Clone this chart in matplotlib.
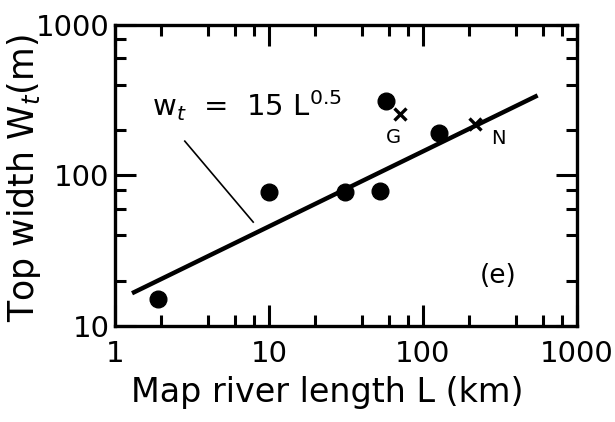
import matplotlib
matplotlib.use('Agg')
import matplotlib.pyplot as plt
from matplotlib.ticker import FixedLocator, NullFormatter

plt.rcParams['font.family'] = ['DejaVu Sans']

# filled circles
dots_L = [1.9, 10, 31, 53, 58, 128]
dots_W = [15, 78, 78, 79, 310, 192]

# crosses (G and N)
cross_L = [71, 218]
cross_W = [254, 218]
cross_names = ['G', 'N']
name_L = [64, 310]
name_W = [178, 175]

# fitted line w_t = 15 L^0.5, end points
fit_L = [1.29, 556]
fit_W = [16.5, 340]

# leader line from the formula to the fit
lead_L = [2.84, 7.9]
lead_W = [169, 49]

x_ticks = [1, 10, 100, 1000]
y_ticks = [10, 100, 1000]
minor = [2, 4, 6, 8]

fig = plt.figure(figsize=(6.15, 4.22), dpi=100)
ax = fig.add_axes([0.187, 0.2275, 0.751, 0.7135])

ax.set_xscale('log')
ax.set_yscale('log')
ax.set_xlim(1, 1000)
ax.set_ylim(10, 1000)

ax.plot(fit_L, fit_W, color='black', lw=3.2, solid_capstyle='butt')
ax.plot(lead_L, lead_W, color='black', lw=1.2)
ax.plot(dots_L, dots_W, 'o', color='black', ms=12, ls='none')
ax.plot(cross_L, cross_W, 'x', color='black', ms=8, mew=2.4, ls='none')
for nm, lx, ly in zip(cross_names, name_L, name_W):
    ax.text(lx, ly, nm, fontsize=14, ha='center', va='center')

ax.text(1.73, 290, r'w$_t$  =  15 L$^{0.5}$', fontsize=21, ha='left', va='center')
ax.text(310, 21.5, '(e)', fontsize=19, ha='center', va='center')

minors = []
for d in [1, 10, 100]:
    minors += [d * m for m in minor]
ax.xaxis.set_major_locator(FixedLocator(x_ticks))
ax.yaxis.set_major_locator(FixedLocator(y_ticks))
ax.xaxis.set_minor_locator(FixedLocator(minors))
ax.yaxis.set_minor_locator(FixedLocator([v for v in minors if v >= 10]))
ax.xaxis.set_minor_formatter(NullFormatter())
ax.yaxis.set_minor_formatter(NullFormatter())
ax.set_xticklabels([str(v) for v in x_ticks])
ax.set_yticklabels([str(v) for v in y_ticks])

ax.tick_params(which='both', direction='in', top=True, right=True, width=2.2,
               labelsize=21)
ax.tick_params(which='major', length=15)
ax.tick_params(which='minor', length=8)
ax.tick_params(axis='x', pad=10)
ax.tick_params(axis='y', pad=4)
for s in ax.spines.values():
    s.set_linewidth(2.4)

ax.set_xlabel('Map river length L (km)', fontsize=24)
ax.set_ylabel(r'Top width W$_t$(m)', fontsize=25)
ax.xaxis.set_label_coords(0.46, -0.165)
ax.yaxis.set_label_coords(-0.155, 0.49)

fig.savefig('out.png', dpi=100)
